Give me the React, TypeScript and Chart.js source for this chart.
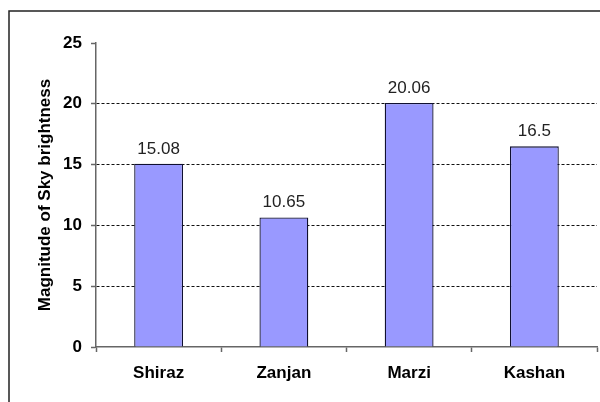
import React, { useEffect, useRef } from "react";
import { Chart, registerables } from "chart.js";

Chart.register(...registerables);

const categories = ["Shiraz", "Zanjan", "Marzi", "Kashan"];
const values = [15.08, 10.65, 20.06, 16.5];
const valueLabels = ["15.08", "10.65", "20.06", "16.5"];
const yTicks = [0, 5, 10, 15, 20, 25];
const yTitle = "Magnitude of Sky brightness";

const FONT = "'Liberation Sans', Arial, sans-serif";

const decorPlugin = {
  id: "decor",
  beforeDraw(chart: any) {
    const ctx = chart.ctx;
    ctx.save();
    ctx.fillStyle = "#ffffff";
    ctx.fillRect(0, 0, chart.width, chart.height);
    ctx.strokeStyle = "#222222";
    ctx.lineWidth = 1.5;
    ctx.beginPath();
    ctx.moveTo(9, chart.height);
    ctx.lineTo(9, 11);
    ctx.lineTo(chart.width, 11);
    ctx.stroke();
    ctx.restore();
  },
  afterDraw(chart: any) {
    const ctx = chart.ctx;
    ctx.save();
    ctx.translate(45, 195);
    ctx.rotate(-Math.PI / 2);
    ctx.font = `bold 17px ${FONT}`;
    ctx.fillStyle = "#000";
    ctx.textAlign = "center";
    ctx.textBaseline = "middle";
    ctx.fillText(yTitle, 0, 0);
    ctx.restore();

    ctx.save();
    ctx.font = `17px ${FONT}`;
    ctx.fillStyle = "#222";
    ctx.textAlign = "center";
    ctx.textBaseline = "alphabetic";
    const meta = chart.getDatasetMeta(0);
    meta.data.forEach((bar: any, i: number) => {
      ctx.fillText(valueLabels[i], bar.x, bar.y - 10);
    });
    ctx.restore();
  },
};

export default function App() {
  const ref = useRef<HTMLCanvasElement | null>(null);
  useEffect(() => {
    if (!ref.current) return;
    const chart = new Chart(ref.current, {
      type: "bar",
      data: {
        labels: categories,
        datasets: [
          {
            data: values,
            backgroundColor: "#9999FF",
            borderColor: "#101030",
            borderWidth: 1.3,
            barPercentage: 0.39,
            categoryPercentage: 1,
          },
        ],
      },
      options: {
        responsive: false,
        animation: false,
        layout: { padding: { left: 0, top: 43, right: 3, bottom: 0 } },
        plugins: {
          legend: { display: false },
          tooltip: { enabled: false },
        },
        scales: {
          x: {
            afterFit(scale: any) {
              scale.height = 55;
            },
            border: { color: "#666", width: 1.5 },
            grid: {
              offset: true,
              drawOnChartArea: false,
              tickLength: 5,
              tickColor: "#666",
              tickWidth: 1.5,
            },
            ticks: {
              padding: 11,
              color: "#000",
              font: { family: FONT, size: 17, weight: "bold" },
            },
          },
          y: {
            min: 0,
            max: 25,
            afterFit(scale: any) {
              scale.width = 96;
            },
            afterBuildTicks(scale: any) {
              scale.ticks = yTicks.map((v) => ({ value: v }));
            },
            border: { color: "#666", width: 1.5, dash: [3, 2] },
            grid: {
              color: (c: any) =>
                c.tick && (c.tick.value === 0 || c.tick.value === 25) ? "rgba(0,0,0,0)" : "#111",
              lineWidth: 1,
              tickLength: 5,
              tickColor: "#666",
              tickWidth: 1.5,
              tickBorderDash: [],
            },
            ticks: {
              padding: 9,
              color: "#000",
              font: { family: FONT, size: 17, weight: "bold" },
            },
          },
        },
      },
      plugins: [decorPlugin],
    } as any);
    return () => chart.destroy();
  }, []);
  return (
    <div style={{ position: "fixed", left: 0, top: 0, width: 600, height: 402 }}>
      <canvas ref={ref} width={600} height={402} />
    </div>
  );
}
